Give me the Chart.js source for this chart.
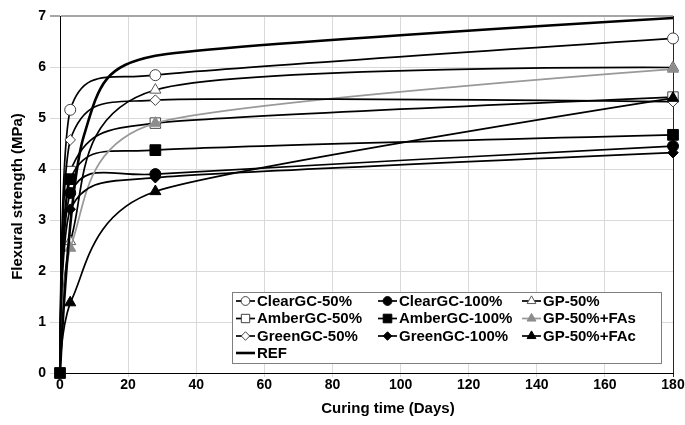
<!DOCTYPE html>
<html>
<head>
<meta charset="utf-8">
<script src="https://cdn.jsdelivr.net/npm/chart.js@4.4.0/dist/chart.umd.min.js"></script>
<style>
  html, body { margin: 0; padding: 0; background: #fff; }
</style>
</head>
<body>
<canvas id="chart" width="685" height="425"></canvas>
<script>
// curing days (x) and flexural strength in MPa (y)
const days = [0, 3, 28, 180];
const refDays = [0, 7, 28, 180];
const clearGC50 = [0, 5.16, 5.84, 6.56];
const clearGC100 = [0, 3.53, 3.90, 4.45];
const gp50 = [0, 2.58, 5.55, 5.99];
const amberGC50 = [0, 3.95, 4.90, 5.41];
const amberGC100 = [0, 3.80, 4.37, 4.67];
const gp50FAs = [0, 2.45, 4.90, 5.96];
const greenGC50 = [0, 4.57, 5.35, 5.32];
const greenGC100 = [0, 3.21, 3.83, 4.32];
const gp50FAc = [0, 1.38, 3.56, 5.39];
const ref = [0, 4.65, 6.22, 6.96];

const FONT = "'Liberation Sans', Arial, sans-serif";

// legend order = plot order (later ones on top)
const series = [
  { label: 'ClearGC-50%', x: days, values: clearGC50, shape: 'circle', fill: '#fff', edge: '#404040', line: '#000', r: 5.5 },
  { label: 'ClearGC-100%', x: days, values: clearGC100, shape: 'circle', fill: '#000', edge: '#000', line: '#000', r: 5.5 },
  { label: 'GP-50%', x: days, values: gp50, shape: 'triangle', fill: '#fff', edge: '#595959', line: '#000', r: 6.4 },
  { label: 'AmberGC-50%', x: days, values: amberGC50, shape: 'rect', fill: '#fff', edge: '#404040', line: '#000', r: 7.4 },
  { label: 'AmberGC-100%', x: days, values: amberGC100, shape: 'rect', fill: '#000', edge: '#000', line: '#000', r: 7.6, zeroMark: true },
  { label: 'GP-50%+FAs', x: days, values: gp50FAs, shape: 'triangle', fill: '#8c8c8c', edge: '#8c8c8c', line: '#999999', r: 6.4 },
  { label: 'GreenGC-50%', x: days, values: greenGC50, shape: 'rectRot', fill: '#fff', edge: '#404040', line: '#000', r: 5.3 },
  { label: 'GreenGC-100%', x: days, values: greenGC100, shape: 'rectRot', fill: '#000', edge: '#000', line: '#000', r: 5.3 },
  { label: 'GP-50%+FAc', x: days, values: gp50FAc, shape: 'triangle', fill: '#000', edge: '#000', line: '#000', r: 6.4 },
  { label: 'REF', x: refDays, values: ref, shape: false, fill: '#000', edge: '#000', line: '#000', r: 0, width: 2.6 }
];

const datasets = series.map((s, i) => ({
  label: s.label,
  data: s.x.map((d, k) => ({ x: d, y: s.values[k] })),
  borderColor: s.line,
  borderWidth: s.width || 1.7,
  backgroundColor: s.fill,
  pointStyle: s.shape,
  pointBackgroundColor: s.fill,
  pointBorderColor: s.edge,
  pointBorderWidth: 1,
  pointRadius: c => (c.raw && c.raw.x === 0 && !s.zeroMark) ? 0 : s.r,
  tension: 0.4,
  fill: false,
  clip: 10, // keep edge markers whole
  order: series.length - i
}));

// Excel-like smoothing: tangent (next - prev)/6, limited to half the shorter neighbour segment
const excelSmooth = {
  id: 'excelSmooth',
  beforeDatasetDraw(chart, args) {
    const line = args.meta.dataset;
    const p = args.meta.data;
    if (!line || p.length < 2) return;
    const area = chart.chartArea;
    const clampX = v => Math.min(Math.max(v, area.left), area.right);
    for (let i = 0; i < p.length; i++) {
      const a = p[Math.max(i - 1, 0)], b = p[i], c = p[Math.min(i + 1, p.length - 1)];
      const d01 = Math.hypot(b.x - a.x, b.y - a.y);
      const d12 = Math.hypot(c.x - b.x, c.y - b.y);
      const d02 = Math.hypot(c.x - a.x, c.y - a.y);
      const f = d02 > 0 ? Math.min(1 / 6, d01 / (2 * d02), d12 / (2 * d02)) : 0;
      b.cp1x = clampX(b.x - f * (c.x - a.x));
      b.cp1y = b.y - f * (c.y - a.y);
      b.cp2x = clampX(b.x + f * (c.x - a.x));
      b.cp2y = b.y + f * (c.y - a.y);
    }
    line._pointsUpdated = true;
    line._path = undefined;
  }
};

// legend box inside the plot plus the two axis titles
const boxLegend = {
  id: 'boxLegend',
  afterDraw(chart) {
    const ctx = chart.ctx;
    const a = chart.chartArea;
    ctx.save();
    ctx.fillStyle = '#fff';
    ctx.fillRect(232, 292, 429, 71);
    ctx.strokeStyle = '#7f7f7f';
    ctx.lineWidth = 1;
    ctx.strokeRect(232.5, 292.5, 429, 71);

    const colX = [236, 378, 522];
    const rowY = [301, 318.5, 336, 353];
    ctx.font = 'bold 15px ' + FONT;
    ctx.textBaseline = 'middle';
    ctx.textAlign = 'left';
    chart.data.datasets.forEach((ds, i) => {
      const s = series[i];
      const x = colX[i % 3], y = rowY[Math.floor(i / 3)];
      ctx.strokeStyle = ds.borderColor;
      ctx.lineWidth = ds.borderWidth;
      ctx.beginPath();
      ctx.moveTo(x, y);
      ctx.lineTo(x + 19, y);
      ctx.stroke();
      if (s.shape && Chart.helpers && Chart.helpers.drawPoint) {
        ctx.fillStyle = s.fill;
        ctx.strokeStyle = s.edge;
        ctx.lineWidth = 1;
        Chart.helpers.drawPoint(ctx, { pointStyle: s.shape, radius: s.r * 0.8, rotation: 0, borderWidth: 1 }, x + 9.5, y);
      }
      ctx.fillStyle = '#000';
      ctx.fillText(ds.label, x + 21, y + 0.5);
    });

    ctx.font = 'bold 15px ' + FONT;
    ctx.fillStyle = '#000';
    ctx.textAlign = 'center';
    ctx.textBaseline = 'alphabetic';
    ctx.fillText('Curing time (Days)', a.left + (a.right - a.left) * 0.535, 413);

    ctx.translate(18, (a.top + a.bottom) / 2 + 2);
    ctx.rotate(-Math.PI / 2);
    ctx.textBaseline = 'middle';
    ctx.fillText('Flexural strength (MPa)', 0, 0);
    ctx.restore();
  }
};

new Chart(document.getElementById('chart'), {
  type: 'line',
  data: { datasets },
  plugins: [excelSmooth, boxLegend],
  options: {
    responsive: false,
    animation: false,
    devicePixelRatio: 1,
    layout: { padding: { top: 16, right: 12, bottom: 0, left: 0 } },
    plugins: {
      legend: { display: false },
      tooltip: { enabled: false }
    },
    scales: {
      x: {
        type: 'linear',
        min: 0,
        max: 180,
        border: { color: '#000', width: 1 },
        grid: {
          color: c => (c.tick && c.tick.value === 180) ? '#262626' : '#d9d9d9',
          tickLength: 4
        },
        ticks: {
          stepSize: 20,
          padding: 0,
          color: '#000',
          maxRotation: 0,
          font: { family: FONT, size: 14, weight: 'bold' }
        },
        afterFit: s => { s.height = 52; }
      },
      y: {
        min: 0,
        max: 7,
        border: { color: '#000', width: 1 },
        grid: {
          color: c => (c.tick && c.tick.value === 7) ? '#a6a6a6' : '#d9d9d9',
          lineWidth: c => (c.tick && c.tick.value === 7) ? 2 : 1,
          tickLength: 10
        },
        ticks: {
          stepSize: 1,
          padding: 4,
          color: '#000',
          font: { family: FONT, size: 14, weight: 'bold' }
        },
        afterFit: s => { s.width = 60; }
      }
    }
  }
});
</script>
</body>
</html>
